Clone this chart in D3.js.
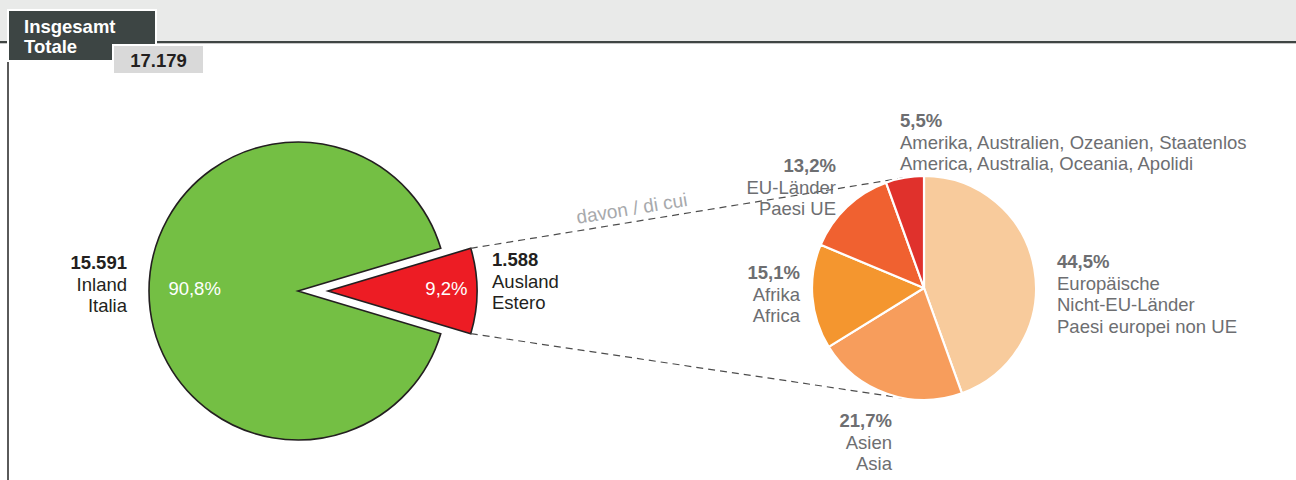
<!DOCTYPE html>
<html><head><meta charset="utf-8">
<script src="https://cdn.jsdelivr.net/npm/d3@7/dist/d3.min.js"></script>
<style>body{margin:0;background:#fff}svg{display:block;font-family:"Liberation Sans",Arial,sans-serif}</style>
</head><body>
<svg id="c" width="1296" height="480"></svg>
<script>
// ---- data ----
const totalTitle = ["Insgesamt", "Totale"];
const totalValue = "17.179";
const mainNames = ["Ausland|Estero", "Inland|Italia"];
const mainValues = [1588, 15591];
const mainValueLabels = ["1.588", "15.591"];
const mainPctLabels = ["9,2%", "90,8%"];
const subNames = [
  "Europäische|Nicht-EU-Länder|Paesi europei non UE",
  "Asien|Asia",
  "Afrika|Africa",
  "EU-Länder|Paesi UE",
  "Amerika, Australien, Ozeanien, Staatenlos|America, Australia, Oceania, Apolidi"
];
const subValues = [44.5, 21.7, 15.1, 13.2, 5.5];
const subPctLabels = ["44,5%", "21,7%", "15,1%", "13,2%", "5,5%"];
const connectorLabel = "davon / di cui";

// ---- layout / style ----
const svg = d3.select("#c");
const W = 1296, H = 480;
const mainColors = ["#ed1c24", "#74bf44"];
const subColors = ["#f8cb9c", "#f79d5c", "#f4962f", "#f06130", "#e0312c"];
const big = {cx: 298, cy: 291, r: 149, explode: 30};
const small = {cx: 924, cy: 288, r: 112};
const fs = 18.5;

// header band
svg.append("rect").attr("x", 0).attr("y", 0).attr("width", W).attr("height", 41).attr("fill", "#e9eae9");
svg.append("rect").attr("x", 0).attr("y", 41).attr("width", W).attr("height", 2).attr("fill", "#3f4543");
svg.append("rect").attr("x", 0).attr("y", 43).attr("width", W).attr("height", 1).attr("fill", "#c8c8c8");
svg.append("rect").attr("x", 7).attr("y", 60).attr("width", 2).attr("height", H - 60).attr("fill", "#5a5a5a");
// title box
svg.append("rect").attr("x", 7).attr("y", 9).attr("width", 150).attr("height", 53).attr("fill", "#fff");
svg.append("rect").attr("x", 9).attr("y", 11).attr("width", 146).attr("height", 49).attr("fill", "#3d4544");
const tt = svg.append("text").attr("x", 24).attr("y", 33).attr("fill", "#fff")
  .attr("font-size", 18.5).attr("font-weight", "bold");
totalTitle.forEach((t, i) => tt.append("tspan").attr("x", 24).attr("dy", i ? 20 : 0).text(t));
svg.append("rect").attr("x", 112).attr("y", 44).attr("width", 93).attr("height", 31).attr("fill", "#fff");
svg.append("rect").attr("x", 114).attr("y", 46).attr("width", 89).attr("height", 27).attr("fill", "#d9d9d9");
svg.append("text").attr("x", 158.5).attr("y", 66.5).attr("text-anchor", "middle")
  .attr("font-size", fs).attr("font-weight", "bold").attr("fill", "#231f20").text(totalValue);

// ---- main pie ----
const mainTotal = d3.sum(mainValues);
const redHalf = Math.PI * mainValues[0] / mainTotal;
const mainPie = d3.pie().sort(null).value(d => d)
  .startAngle(Math.PI / 2 - redHalf).endAngle(Math.PI / 2 - redHalf + 2 * Math.PI);
const mainArcs = mainPie(mainValues);
const arcBig = d3.arc().innerRadius(0).outerRadius(big.r);
const gBig = svg.append("g").attr("transform", `translate(${big.cx},${big.cy})`);

// explode offset for foreign slice
const ra = mainArcs[0], mid0 = (ra.startAngle + ra.endAngle) / 2;
const ex = big.explode * Math.sin(mid0), ey = -big.explode * Math.cos(mid0);

// connector lines (tangents from red corners to small pie)
function corner(a) { return [big.cx + ex + big.r * Math.sin(a), big.cy + ey - big.r * Math.cos(a)]; }
function tangent(P, upper) {
  const dx = small.cx - P[0], dy = small.cy - P[1];
  const d = Math.hypot(dx, dy);
  const base = Math.atan2(dy, dx);
  const off = Math.asin(small.r / d);
  const ang = upper ? base - off : base + off;
  const L = Math.sqrt(d * d - small.r * small.r);
  return [P[0] + L * Math.cos(ang), P[1] + L * Math.sin(ang)];
}
const cTop = corner(ra.startAngle), cBot = corner(ra.endAngle);
const tTop = tangent(cTop, true), tBot = tangent(cBot, false);
[[cTop, tTop], [cBot, tBot]].forEach(([a, b]) => {
  svg.append("line").attr("x1", a[0]).attr("y1", a[1]).attr("x2", b[0]).attr("y2", b[1])
    .attr("stroke", "#4d4d4d").attr("stroke-width", 1.2).attr("stroke-dasharray", "7,5");
});
// connector label
{
  const t = 0.375;
  const px = cTop[0] + (tTop[0] - cTop[0]) * t, py = cTop[1] + (tTop[1] - cTop[1]) * t;
  const ang = Math.atan2(tTop[1] - cTop[1], tTop[0] - cTop[0]);
  const nx = Math.sin(ang) * 7, ny = -Math.cos(ang) * 7;
  svg.append("text").attr("transform", `translate(${px + nx},${py + ny}) rotate(${ang * 180 / Math.PI})`)
    .attr("text-anchor", "middle").attr("font-size", 19).attr("fill", "#a7a9ac").text(connectorLabel);
}

gBig.selectAll("path.m").data(mainArcs).join("path").attr("class", "m")
  .attr("d", arcBig).attr("fill", (d, i) => mainColors[i])
  .attr("stroke", "#231f20").attr("stroke-width", 1.6).attr("stroke-linejoin", "miter")
  .attr("transform", (d, i) => i === 0 ? `translate(${ex},${ey})` : null);

// pct labels inside
const pctPos = [[ex + big.r * 0.795, 0], [-big.r * 0.87, 0]];
mainArcs.forEach((d, i) => {
  gBig.append("text").attr("x", pctPos[i][0]).attr("y", pctPos[i][1] + 4)
    .attr("text-anchor", i === 0 ? "middle" : "start").attr("font-size", fs).attr("fill", "#fff")
    .text(mainPctLabels[i]);
});
// outer labels
function block(x, y, anchor, bold, lines, color) {
  const t = svg.append("text").attr("x", x).attr("y", y).attr("text-anchor", anchor)
    .attr("font-size", fs).attr("fill", color);
  t.append("tspan").attr("x", x).attr("font-weight", "bold").text(bold);
  lines.forEach(l => t.append("tspan").attr("x", x).attr("dy", 21.7).text(l));
}
block(big.cx + ex + big.r + 15, big.cy - 25, "start", mainValueLabels[0], mainNames[0].split("|"), "#231f20");
block(big.cx - big.r - 22, big.cy - 22, "end", mainValueLabels[1], mainNames[1].split("|"), "#231f20");

// ---- small pie ----
const subPie = d3.pie().sort(null).value(d => d);
const subArcs = subPie(subValues);
const arcSmall = d3.arc().innerRadius(0).outerRadius(small.r);
const gSmall = svg.append("g").attr("transform", `translate(${small.cx},${small.cy})`);
gSmall.selectAll("path").data(subArcs).join("path").attr("d", arcSmall)
  .attr("fill", (d, i) => subColors[i]).attr("stroke", "#fff").attr("stroke-width", 2.2)
  .attr("stroke-linejoin", "round");

// label offsets relative to pie center: [dx, dy, anchor]
const subLabelPos = [
  [133, -20, "start"],
  [-32, 139, "end"],
  [-124, -9, "end"],
  [-88, -116, "end"],
  [-24, -161, "start"]
];
subArcs.forEach((d, i) => {
  const p = subLabelPos[i];
  block(small.cx + p[0], small.cy + p[1], p[2], subPctLabels[i], subNames[i].split("|"), "#6d6e71");
});
</script>
</body></html>
